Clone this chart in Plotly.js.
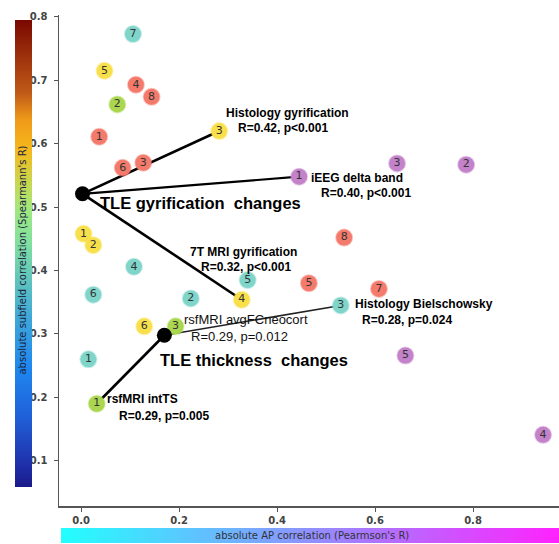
<!DOCTYPE html>
<html>
<head>
<meta charset="utf-8">
<script src="https://cdn.plot.ly/plotly-3.0.1.min.js"></script>
<style>html,body{margin:0;padding:0;background:#fff;}#chart{width:559px;height:544px;}</style>
</head>
<body>
<div id="chart"></div>
<script>
// ---- data ----
const redX = [0.037, 0.112, 0.144, 0.085, 0.127, 0.537, 0.465, 0.608];
const redY = [0.611, 0.693, 0.674, 0.562, 0.570, 0.452, 0.380, 0.371];
const redLab = ['1', '4', '8', '6', '3', '8', '5', '7'];

const yellowX = [0.048, 0.282, 0.005, 0.025, 0.328, 0.129];
const yellowY = [0.715, 0.620, 0.458, 0.440, 0.354, 0.312];
const yellowLab = ['5', '3', '1', '2', '4', '6'];

const tealX = [0.106, 0.108, 0.025, 0.224, 0.340, 0.015, 0.530];
const tealY = [0.773, 0.406, 0.362, 0.356, 0.385, 0.260, 0.345];
const tealLab = ['7', '4', '6', '2', '5', '1', '3'];

const greenX = [0.074, 0.193, 0.032];
const greenY = [0.662, 0.312, 0.190];
const greenLab = ['2', '3', '1'];

const purpleX = [0.445, 0.645, 0.786, 0.662, 0.943];
const purpleY = [0.548, 0.569, 0.567, 0.266, 0.141];
const purpleLab = ['1', '3', '2', '5', '4'];

const centroidX = [0.003, 0.170];
const centroidY = [0.521, 0.298];
const centroidNames = ['TLE gyrification\u00a0 changes', 'TLE thickness\u00a0 changes'];

// links: centroid index, target group, target index
const linkFrom = [0, 0, 0, 1, 1, 1];
const linkGroup = ['yellow', 'purple', 'yellow', 'teal', 'green', 'green'];
const linkIdx = [1, 0, 4, 6, 1, 2];
const linkNames = ['Histology gyrification', 'iEEG delta band', '7T MRI gyrification',
  'Histology Bielschowsky', 'rsfMRI avgFCneocort', 'rsfMRI intTS'];
const linkStats = ['R=0.42, p<0.001', 'R=0.40, p<0.001', 'R=0.32, p<0.001',
  'R=0.28, p=0.024', 'R=0.29, p=0.012', 'R=0.29, p=0.005'];

const xTicks = [0, 0.2, 0.4, 0.6, 0.8];
const xTickText = ['0.0', '0.2', '0.4', '0.6', '0.8'];
const yTicks = [0.1, 0.2, 0.3, 0.4, 0.5, 0.6, 0.7, 0.8];
const yTickText = ['0.1', '0.2', '0.3', '0.4', '0.5', '0.6', '0.7', '0.8'];

// ---- styles ----
const groups = {
  red:    {x: redX, y: redY, t: redLab, c: '#f47b6c', h: 'rgba(244,123,108,0.45)'},
  yellow: {x: yellowX, y: yellowY, t: yellowLab, c: '#f8e04c', h: 'rgba(248,224,76,0.45)'},
  teal:   {x: tealX, y: tealY, t: tealLab, c: '#80d5ca', h: 'rgba(128,213,202,0.45)'},
  green:  {x: greenX, y: greenY, t: greenLab, c: '#aad650', h: 'rgba(170,214,80,0.45)'},
  purple: {x: purpleX, y: purpleY, t: purpleLab, c: '#c382c9', h: 'rgba(195,130,201,0.45)'}
};
const lineWidths = [2.6, 2.2, 2.6, 1.6, 2.0, 2.6];
const nameStyle = [
  {dx: 68, dy: -18, sdx: 64, sdy: -3},
  {dx: 58, dy: 1, sdx: 67, sdy: 16},
  {dx: 2, dy: -48, sdx: 4, sdy: -33},
  {dx: 83, dy: -1, sdx: 66, sdy: 15},
  {dx: 70, dy: -7, sdx: 64, sdy: 10},
  {dx: 46, dy: -5, sdx: 67, sdy: 12}
];
const centroidStyle = [{dx: 118, dy: 9}, {dx: 90, dy: 25}];

const traces = [];
// connecting lines
for (let i = 0; i < linkFrom.length; i++) {
  const g = groups[linkGroup[i]];
  const c = linkFrom[i];
  traces.push({
    type: 'scatter', mode: 'lines', hoverinfo: 'skip', showlegend: false,
    x: [centroidX[c], g.x[linkIdx[i]]], y: [centroidY[c], g.y[linkIdx[i]]],
    line: {color: i === 3 ? '#222' : '#000', width: lineWidths[i]}
  });
}
// points
Object.keys(groups).forEach(k => {
  const g = groups[k];
  traces.push({
    type: 'scatter', mode: 'markers+text', showlegend: false, hoverinfo: 'skip',
    x: g.x, y: g.y, text: g.t, textposition: 'middle center',
    textfont: {family: 'DejaVu Sans', size: 11, color: '#333'},
    marker: {size: 16, color: g.c, line: {color: g.h, width: 2}}
  });
});
// centroids
traces.push({
  type: 'scatter', mode: 'markers', showlegend: false, hoverinfo: 'skip',
  x: centroidX, y: centroidY, marker: {size: 15, color: '#000'}
});
// colorbars
traces.push({
  type: 'scatter', mode: 'markers', showlegend: false, hoverinfo: 'skip',
  x: [null, null], y: [null, null],
  marker: {
    color: [0, 1], cmin: 0, cmax: 1, showscale: true,
    colorscale: [[0, '#1a1a88'], [0.043, '#1e2ea8'], [0.15, '#2060d8'], [0.257, '#1e88f0'],
      [0.364, '#40a8d8'], [0.522, '#80e0a0'], [0.593, '#a0e880'], [0.651, '#c8d850'],
      [0.722, '#f5b81c'], [0.786, '#ef9a18'], [0.844, '#c05a18'], [1, '#7a0800']],
    colorbar: {
      x: -0.088, xanchor: 'left', y: 0.514, yanchor: 'middle',
      thickness: 17, thicknessmode: 'pixels', len: 467, lenmode: 'pixels',
      xpad: 0, ypad: 0, outlinewidth: 0, showticklabels: false, ticks: ''
    }
  }
});
traces.push({
  type: 'scatter', mode: 'markers', showlegend: false, hoverinfo: 'skip',
  x: [null, null], y: [null, null], xaxis: 'x', yaxis: 'y',
  marker: {
    color: [0, 1], cmin: 0, cmax: 1, showscale: true,
    colorscale: [[0, '#22ffff'], [1, '#ff22ff']],
    colorbar: {
      orientation: 'h', x: 0.502, xanchor: 'center', y: -0.0755, yanchor: 'bottom',
      thickness: 15, thicknessmode: 'pixels', len: 498, lenmode: 'pixels',
      xpad: 0, ypad: 0, outlinewidth: 0, showticklabels: false, ticks: ''
    }
  }
});

const annotations = [];
const boldFont = {family: 'Liberation Sans', size: 12, color: '#000', weight: 'bold'};
const regFont = {family: 'Liberation Sans', size: 13, color: '#111'};
for (let i = 0; i < linkNames.length; i++) {
  const g = groups[linkGroup[i]];
  const s = nameStyle[i];
  const f = i === 4 ? regFont : boldFont;
  annotations.push({x: g.x[linkIdx[i]], y: g.y[linkIdx[i]], xref: 'x', yref: 'y',
    text: linkNames[i], showarrow: false, xanchor: 'center', yanchor: 'middle',
    xshift: s.dx, yshift: -s.dy, font: f});
  annotations.push({x: g.x[linkIdx[i]], y: g.y[linkIdx[i]], xref: 'x', yref: 'y',
    text: linkStats[i], showarrow: false, xanchor: 'center', yanchor: 'middle',
    xshift: s.sdx, yshift: -s.sdy, font: f});
}
for (let i = 0; i < centroidNames.length; i++) {
  annotations.push({x: centroidX[i], y: centroidY[i], xref: 'x', yref: 'y',
    text: centroidNames[i], showarrow: false, xanchor: 'center', yanchor: 'middle',
    xshift: centroidStyle[i].dx, yshift: -centroidStyle[i].dy,
    font: {family: 'Liberation Sans', size: 16.5, color: '#000', weight: 'bold'}});
}
annotations.push({x: -0.073, y: 0.501, xref: 'paper', yref: 'paper', showarrow: false,
  xanchor: 'center', yanchor: 'middle',
  text: "absolute subfield correlation (Spearmann's R)", textangle: -90,
  font: {family: 'DejaVu Sans', size: 10, color: '#1c2440'}});
annotations.push({x: 0.506, y: -0.0595, xref: 'paper', yref: 'paper', showarrow: false,
  yanchor: 'middle', text: "absolute AP correlation (Pearmson's R)",
  font: {family: 'DejaVu Sans', size: 10, color: '#333'}});

const tickFont = {family: 'DejaVu Sans', size: 10, color: '#444', weight: 'bold'};
const layout = {
  width: 559, height: 544,
  margin: {l: 59, r: 0, t: 15, b: 38, pad: 0},
  paper_bgcolor: '#fff', plot_bgcolor: '#fff',
  showlegend: false,
  xaxis: {range: [-0.045, 0.9755], tickvals: xTicks, ticktext: xTickText,
    showline: true, linecolor: '#555', linewidth: 1.5, ticks: 'outside', ticklen: 4,
    tickcolor: '#555', showgrid: false, zeroline: false, tickfont: tickFont},
  yaxis: {range: [0.0287, 0.803], tickvals: yTicks, ticktext: yTickText,
    showline: true, linecolor: '#555', linewidth: 1.5, ticks: 'outside', ticklen: 4,
    tickcolor: '#555', showgrid: false, zeroline: false, tickfont: tickFont,
    ticklabelstandoff: 4},
  annotations: annotations
};
Plotly.newPlot('chart', traces, layout, {displayModeBar: false, staticPlot: true});
</script>
</body>
</html>
